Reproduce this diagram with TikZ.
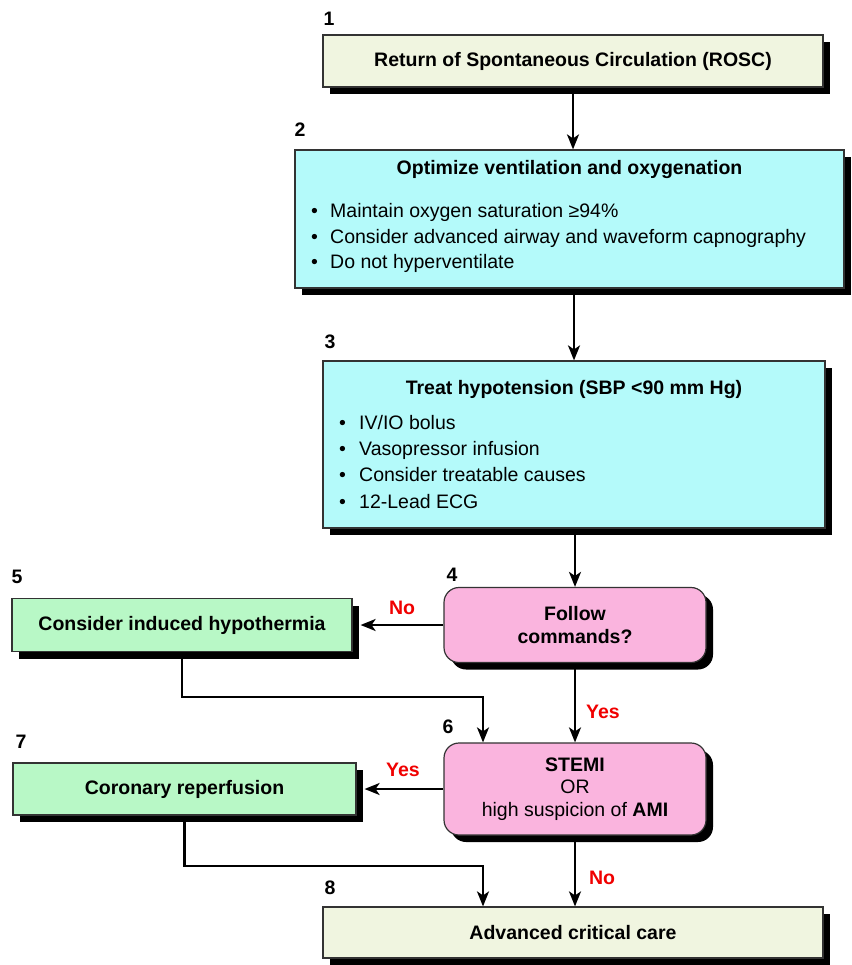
\documentclass[tikz,border=0pt]{standalone}
\usepackage{fontspec}
\setmainfont{Liberation Sans}
\usetikzlibrary{shadows,arrows.meta,calc}
\definecolor{beige}{HTML}{F0F5E0}
\definecolor{cyanbox}{HTML}{B4FAFA}
\definecolor{pinkbox}{HTML}{FAB4DE}
\definecolor{greenbox}{HTML}{B8F8C6}
\definecolor{redlab}{HTML}{F00000}
\definecolor{edge}{HTML}{333333}
\pgfdeclarelayer{background}
\pgfsetlayers{background,main}
\newcommand{\fs}{\fontsize{19.5}{22.5}\selectfont}
\tikzset{
  boxbase/.style={draw=edge, line width=1.2pt, inner sep=0pt, align=center, font=\fs\bfseries,
    drop shadow={shadow xshift=7pt, shadow yshift=-7pt, fill=black, opacity=1}},
  beigebox/.style={boxbase, fill=beige},
  cyanb/.style={boxbase, fill=cyanbox},
  pinkb/.style={boxbase, fill=pinkbox, rounded corners=15pt},
  greenb/.style={boxbase, fill=greenbox},
  numlab/.style={font=\fs\bfseries, inner sep=0pt},
  anslab/.style={font=\fs\bfseries, text=redlab, inner sep=0pt},
  title/.style={font=\fs\bfseries, inner sep=0pt, anchor=base},
  bul/.style={font=\fs, inner sep=0pt, anchor=base west},
  arr/.style={line width=2.2pt, -{Stealth[length=15pt, width=12pt, inset=4pt]}},
  conn/.style={line width=2.2pt}
}
\begin{document}
\begin{tikzpicture}[x=1pt,y=-1pt]
\useasboundingbox (0,0) rectangle (851,965);

% boxes
\node[beigebox, minimum width=500pt, minimum height=52pt] (b1) at (573,61) {Return of Spontaneous Circulation (ROSC)};
\node[cyanb, minimum width=549pt, minimum height=138pt] (b2) at (569.5,219) {};
\node[cyanb, minimum width=502pt, minimum height=167pt] (b3) at (574,444.5) {};
\node[pinkb, minimum width=262pt, minimum height=75pt] (b4) at (575,625) {Follow\\commands?};
\node[greenb, minimum width=340pt, minimum height=53pt] (b5) at (182,625) {Consider induced hypothermia};
\node[pinkb, minimum width=262pt, minimum height=92pt, font=\fs] (b6) at (575,789) {\textbf{STEMI}\\OR\\high suspicion of \textbf{AMI}};
\node[greenb, minimum width=343pt, minimum height=52pt] (b7) at (184.5,789) {Coronary reperfusion};
\node[beigebox, minimum width=500pt, minimum height=51pt] (b8) at (573,932.5) {Advanced critical care};

% box 2 text
\node[title] (t2) at (569.5,175) {Optimize ventilation and oxygenation};
\node[bul] (l21) at (311,218) {\makebox[19pt][l]{•}Maintain oxygen saturation ≥94\%};
\node[bul] (l22) at (311,244) {\makebox[19pt][l]{•}Consider advanced airway and waveform capnography};
\node[bul] (l23) at (311,269) {\makebox[19pt][l]{•}Do not hyperventilate};

% box 3 text
\node[title] (t3) at (574,394) {Treat hypotension (SBP <90 mm Hg)};
\node[bul] (l31) at (339,429) {\makebox[20pt][l]{•}IV/IO bolus};
\node[bul] (l32) at (339,455) {\makebox[20pt][l]{•}Vasopressor infusion};
\node[bul] (l33) at (339,481) {\makebox[20pt][l]{•}Consider treatable causes};
\node[bul] (l34) at (339,508) {\makebox[20pt][l]{•}12-Lead ECG};

% step numbers
\node[numlab] (n1) at (329,19) {1};
\node[numlab] (n2) at (300,130) {2};
\node[numlab] (n3) at (330,342) {3};
\node[numlab] (n4) at (452,575) {4};
\node[numlab] (n5) at (17,577) {5};
\node[numlab] (n6) at (448,727) {6};
\node[numlab] (n7) at (21,742) {7};
\node[numlab] (n8) at (330,888) {8};

% answer labels
\node[anslab] (no1) at (402,608) {No};
\node[anslab] (yes1) at (603,712) {Yes};
\node[anslab] (yes2) at (403,770) {Yes};
\node[anslab] (no2) at (602,878) {No};

\coordinate (j1) at (483,697);
\coordinate (j2) at (483,866);

\begin{pgfonlayer}{background}
\draw[arr] (b1.south) -- (b1.south |- b2.north);
\draw[arr] (b3.north |- b2.south) -- (b3.north);
\draw[arr] (b4.north |- b3.south) -- (b4.north);
\draw[arr] (b4.west) -- ($(b4.west -| b5.east)+(8,0)$);
\draw[arr] (b4.south) -- (b6.north);
\draw[arr] (b5.south) |- (j1) -- (j1 |- b6.north);
\draw[arr] (b6.west) -- ($(b6.west -| b7.east)+(8,0)$);
\draw[arr] (b6.south) -- (b6.south |- b8.north);
\draw[arr] (b7.south) |- (j2) -- (j2 |- b8.north);
\end{pgfonlayer}
\end{tikzpicture}
\end{document}
